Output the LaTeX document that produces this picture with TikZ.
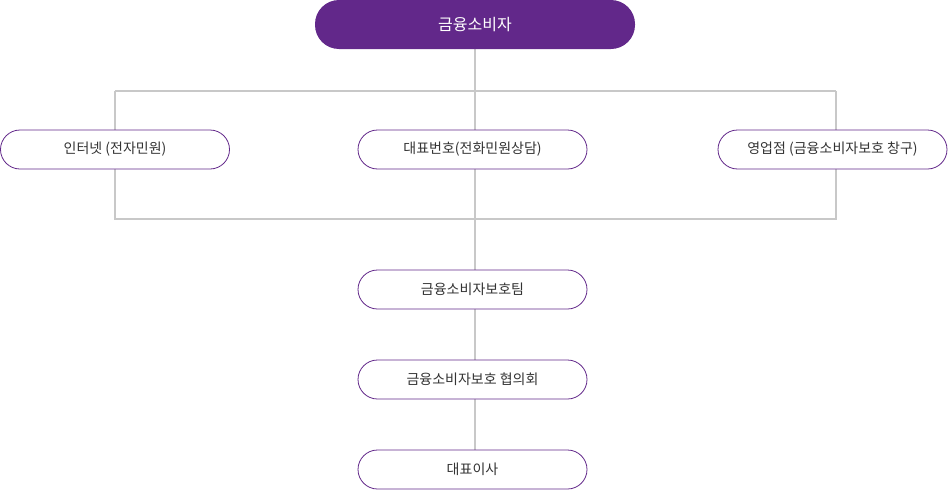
\documentclass[tikz,border=0pt]{standalone}
\usepackage{fontspec}
\setmainfont{Noto Sans CJK KR}
\definecolor{pp}{HTML}{62288A}
\definecolor{ln}{HTML}{C8C8C8}
\definecolor{tx}{HTML}{333333}
\begin{document}
\begin{tikzpicture}[x=1pt,y=-1pt,
  box/.style={draw=pp,line width=0.8pt,fill=white,rounded corners=19.5pt,minimum height=39pt,inner sep=0pt,text=tx,font=\fontsize{14}{16}\selectfont},
  top/.style={fill=pp,rounded corners=24pt,minimum height=49pt,minimum width=320pt,inner sep=0pt,text=white,font=\fontsize{16}{19}\selectfont},
  con/.style={draw=ln,line width=1.2pt}]
\useasboundingbox (0,0) rectangle (948,490);
\coordinate (l1) at (115,91); \coordinate (r1) at (836,91);
\coordinate (l2) at (115,219); \coordinate (r2) at (836,219);
\coordinate (c1) at (475,91); \coordinate (c2) at (475,219);
\draw[con] (475,49) -- (c1);
\draw[con] (l1) -- (r1);
\draw[con] (l1) -- (l2) -- (r2) -- (r1);
\draw[con] (c1) -- (c2) -- (475,270) -- (475,450);
\node[top] (t) at (475,24.5) {금융소비자};
\node[box,minimum width=229pt] (a) at (115,149.5) {인터넷 (전자민원)};
\node[box,minimum width=229pt] (b) at (472.5,149.5) {대표번호(전화민원상담)};
\node[box,minimum width=229pt] (c) at (832.5,149.5) {영업점 (금융소비자보호 창구)};
\node[box,minimum width=229pt] (d) at (472.5,289.5) {금융소비자보호팀};
\node[box,minimum width=229pt] (e) at (472.5,379.5) {금융소비자보호 협의회};
\node[box,minimum width=229pt] (f) at (472.5,469.5) {대표이사};
\end{tikzpicture}
\end{document}
